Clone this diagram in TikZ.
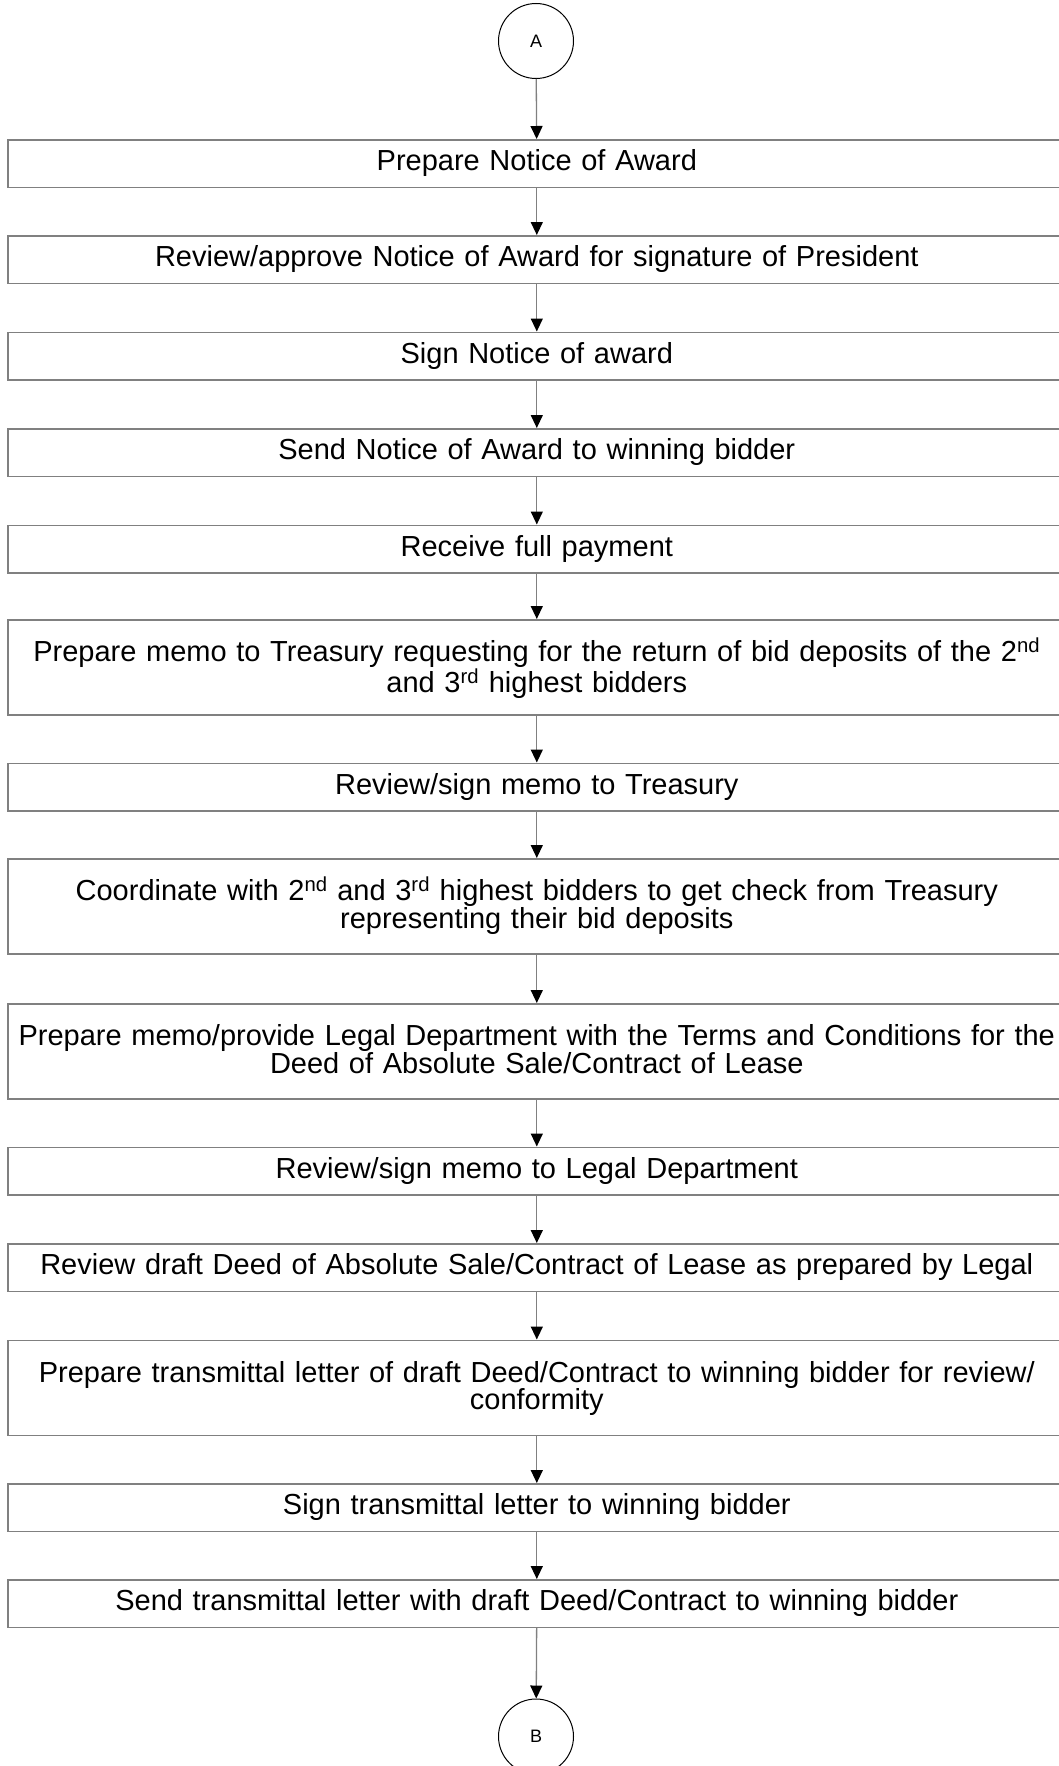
\documentclass[tikz,border=0pt]{standalone}
\usepackage{fontspec}
\setmainfont{Liberation Sans}
\usetikzlibrary{arrows.meta}
\definecolor{boxgray}{HTML}{808080}
\lineskiplimit=-20pt
\hyphenpenalty=10000
\exhyphenpenalty=10000
\begin{document}
\begin{tikzpicture}[x=1pt,y=-1pt,
 stepbox/.style={draw=boxgray, line width=1.6pt, anchor=north west, inner sep=0pt,
   text width=1058pt, align=center,
   font=\fontsize{29}{27.5}\selectfont,
   text height=31pt, text depth=16.5pt},
 twoline/.style={text height=42pt, text depth=53pt},
 connector/.style={circle, draw=black, line width=1pt, minimum size=75pt, inner sep=0pt,
   font=\fontsize{18}{18}\selectfont},
 conn/.style={draw=boxgray, line width=1.3pt, -{Triangle[length=13pt,width=12pt,color=black]}}]
\useasboundingbox (0,0) rectangle (1058,1766);
\node[connector] (A) at (536,41) {A};
\node[stepbox] (b1) at (7,139) {Prepare Notice of Award};
\node[stepbox] (b2) at (7,235) {Review/approve Notice of Award for signature of President};
\node[stepbox] (b3) at (7,331.5) {Sign Notice of award};
\node[stepbox] (b4) at (7,428) {Send Notice of Award to winning bidder};
\node[stepbox] (b5) at (7,524.5) {Receive full payment};
\node[stepbox,twoline] (b6) at (7,619) {Prepare memo to Treasury requesting for the return of bid deposits of the 2\textsuperscript{nd}\\and 3\textsuperscript{rd} highest bidders};
\node[stepbox] (b7) at (7,762.5) {Review/sign memo to Treasury};
\node[stepbox,twoline] (b8) at (7,858) {Coordinate with 2\textsuperscript{nd} and 3\textsuperscript{rd} highest bidders to get check from Treasury\\representing their bid deposits};
\node[stepbox,twoline] (b9) at (7,1003) {Prepare memo/provide Legal Department with the Terms and Conditions for the\\Deed of Absolute Sale/Contract of Lease};
\node[stepbox] (b10) at (7,1146.5) {Review/sign memo to Legal Department};
\node[stepbox] (b11) at (7,1243) {Review draft Deed of Absolute Sale/Contract of Lease as prepared by Legal};
\node[stepbox,twoline] (b12) at (7,1339.5) {Prepare transmittal letter of draft Deed/Contract to winning bidder for review/\\conformity};
\node[stepbox] (b13) at (7,1483) {Sign transmittal letter to winning bidder};
\node[stepbox] (b14) at (7,1579) {Send transmittal letter with draft Deed/Contract to winning bidder};
\node[connector] (B) at (536,1736.5) {B};
\draw[conn] (A) -- (b1);
\draw[conn] (b1) -- (b2);
\draw[conn] (b2) -- (b3);
\draw[conn] (b3) -- (b4);
\draw[conn] (b4) -- (b5);
\draw[conn] (b5) -- (b6);
\draw[conn] (b6) -- (b7);
\draw[conn] (b7) -- (b8);
\draw[conn] (b8) -- (b9);
\draw[conn] (b9) -- (b10);
\draw[conn] (b10) -- (b11);
\draw[conn] (b11) -- (b12);
\draw[conn] (b12) -- (b13);
\draw[conn] (b13) -- (b14);
\draw[conn] (b14) -- (B);
\end{tikzpicture}
\end{document}
